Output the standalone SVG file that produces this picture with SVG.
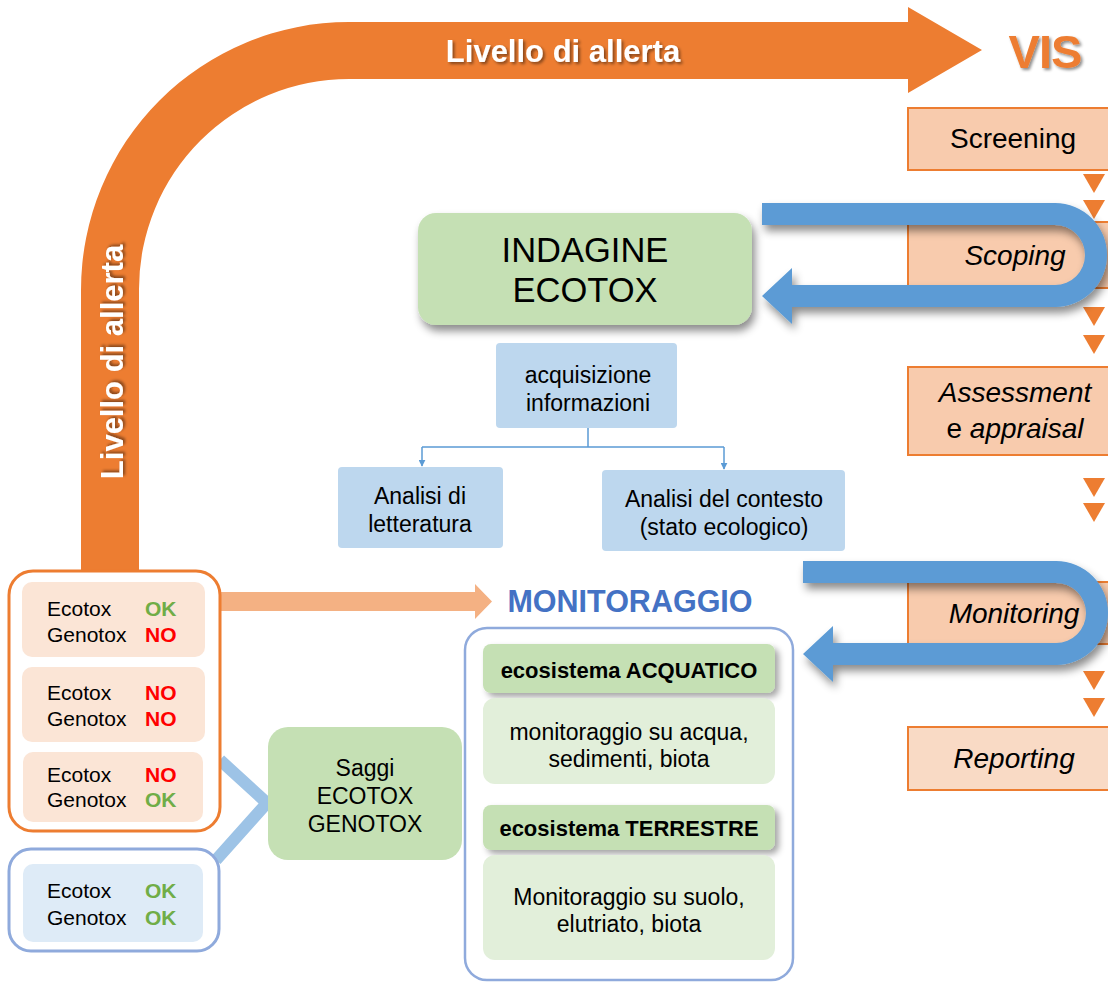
<svg xmlns="http://www.w3.org/2000/svg" width="1108" height="982" viewBox="0 0 1108 982">
<defs>
<filter id="sh" x="-20%" y="-30%" width="140%" height="170%"><feDropShadow dx="3" dy="6" stdDeviation="4" flood-color="#000" flood-opacity="0.45"/></filter>
<filter id="shs" x="-10%" y="-30%" width="130%" height="170%"><feDropShadow dx="4" dy="4" stdDeviation="3" flood-color="#000" flood-opacity="0.35"/></filter>
<filter id="tsh" x="-10%" y="-30%" width="130%" height="170%"><feDropShadow dx="2" dy="2" stdDeviation="1.5" flood-color="#000" flood-opacity="0.45"/></filter>
<marker id="ah" viewBox="0 0 10 10" refX="9" refY="5" markerWidth="7" markerHeight="7" orient="auto" markerUnits="userSpaceOnUse"><path d="M0,0 L10,5 L0,10 Z" fill="#5b9bd5"/></marker>
<clipPath id="cp"><rect x="0" y="0" width="1108" height="982"/></clipPath>
</defs>
<style>
text{font-family:"Liberation Sans",Arial,sans-serif;fill:#000}
.vis{fill:#f8cbad;stroke:#ed7d31;stroke-width:2}
.tri{fill:#ed7d31}
.vt{font-size:28px;text-anchor:middle}
.it{font-style:italic}
.bl{fill:#bdd7ee}
.m{font-size:23px;text-anchor:middle}
.lab{font-size:21px}
.ok{fill:#70ad47;font-weight:bold}
.no{fill:#ff0000;font-weight:bold}
.pk{fill:#fbe5d6}
.gh{fill:#c5e0b4}
.gb{fill:#e2efda}
.hd{font-size:22px;font-weight:bold;text-anchor:middle}
.bd{font-size:23px;text-anchor:middle}
</style>

<g id="alert-arrow">
<path d="M81 572 L81 290 A268 268 0 0 1 349 22 L908 22 L908 7 L982 50 L908 93 L908 79 L349 79 A210 210 0 0 0 139 289 L139 572 Z" fill="#ed7d31"/>
<text x="563" y="62" font-size="31" font-weight="bold" text-anchor="middle" style="fill:#fff" filter="url(#tsh)">Livello di allerta</text>
<text transform="translate(123,362) rotate(-90)" x="0" y="0" font-size="31" font-weight="bold" text-anchor="middle" style="fill:#fff" filter="url(#tsh)">Livello di allerta</text>
</g>

<g id="vis-title"><text x="1045" y="68" font-size="47" font-weight="bold" text-anchor="middle" letter-spacing="-1" style="fill:#ed7d31" filter="url(#tsh)">VIS</text></g>

<g clip-path="url(#cp)">
<g id="screening"><rect class="vis" x="908" y="108" width="220" height="62"/><text class="vt" x="1013" y="148">Screening</text></g>
<g id="scoping"><rect class="vis" x="908" y="222" width="220" height="66"/><text class="vt it" x="1015" y="265">Scoping</text></g>
<g id="assessment"><rect class="vis" x="908" y="367" width="220" height="88"/><text class="vt it" x="1015" y="402">Assessment</text><text class="vt" x="1015" y="438">e <tspan class="it">appraisal</tspan></text></g>
<g id="monitoring"><rect class="vis" x="908" y="582" width="220" height="62"/><text class="vt it" x="1014" y="623">Monitoring</text></g>
<g id="reporting"><rect class="vis" x="908" y="727" width="220" height="63" style="fill:#f9dac5"/><text class="vt it" x="1014" y="768">Reporting</text></g>
</g>

<g id="vis-steps">
<path class="tri" d="M1083 174 L1105 174 L1094 193 Z"/>
<path class="tri" d="M1083 200 L1105 200 L1094 219 Z"/>
<path class="tri" d="M1083 307 L1105 307 L1094 326 Z"/>
<path class="tri" d="M1083 335 L1105 335 L1094 354 Z"/>
<path class="tri" d="M1083 478 L1105 478 L1094 497 Z"/>
<path class="tri" d="M1083 503 L1105 503 L1094 522 Z"/>
<path class="tri" d="M1083 671 L1105 671 L1094 690 Z"/>
<path class="tri" d="M1083 698 L1105 698 L1094 717 Z"/>
</g>

<g id="indagine"><rect x="418" y="213" width="334" height="112" rx="18" fill="#c5e0b4" filter="url(#sh)"/><text x="585" y="262" font-size="34.5" text-anchor="middle">INDAGINE</text><text x="585" y="302" font-size="34.5" text-anchor="middle">ECOTOX</text></g>

<g id="connectors">
<path d="M762 203 L1055 203 A52 52 0 0 1 1055 307 L792 307 L792 324 L762 296 L792 268 L792 285 L1055 285 A30 30 0 0 0 1055 225 L762 225 Z" fill="#5b9bd5" filter="url(#sh)"/>
<path d="M803 561 L1056 561 A52 52 0 0 1 1056 665 L833 665 L833 682 L803 654 L833 626 L833 643 L1056 643 A30 30 0 0 0 1056 583 L803 583 Z" fill="#5b9bd5" filter="url(#sh)"/>
<path d="M588 428 L588 447 M422 447 L724 447" fill="none" stroke="#5b9bd5" stroke-width="1.5"/>
<path d="M422 447 L422 466" fill="none" stroke="#5b9bd5" stroke-width="1.5" marker-end="url(#ah)"/>
<path d="M724 447 L724 469" fill="none" stroke="#5b9bd5" stroke-width="1.5" marker-end="url(#ah)"/>
<path d="M220 592 L475 592 L475 584 L492 601.5 L475 619 L475 611 L220 611 Z" fill="#f4b183"/>
<path d="M220 760 L267 803 L216 860" fill="none" stroke="#9dc3e6" stroke-width="12"/>
</g>

<g id="acquisizione"><rect class="bl" x="496" y="343" width="181" height="85" rx="4"/><text class="m" x="588" y="383">acquisizione</text><text class="m" x="588" y="411">informazioni</text></g>
<g id="letteratura"><rect class="bl" x="338" y="467" width="165" height="81" rx="4"/><text class="m" x="420" y="504">Analisi di</text><text class="m" x="420" y="532">letteratura</text></g>
<g id="contesto"><rect class="bl" x="602" y="470" width="243" height="81" rx="4"/><text class="m" x="724" y="507">Analisi del contesto</text><text class="m" x="724" y="535">(stato ecologico)</text></g>

<g id="result-group-orange">
<rect x="9" y="571" width="211" height="260" rx="24" fill="#fff" stroke="#ed7d31" stroke-width="3"/>
<rect class="pk" x="22" y="582" width="183" height="75" rx="10"/>
<text class="lab" x="47" y="616">Ecotox</text><text class="lab ok" x="145" y="616">OK</text>
<text class="lab" x="47" y="642">Genotox</text><text class="lab no" x="145" y="642">NO</text>
<rect class="pk" x="22" y="667" width="183" height="75" rx="10"/>
<text class="lab" x="47" y="700">Ecotox</text><text class="lab no" x="145" y="700">NO</text>
<text class="lab" x="47" y="726">Genotox</text><text class="lab no" x="145" y="726">NO</text>
<rect class="pk" x="23" y="752" width="180" height="70" rx="10"/>
<text class="lab" x="47" y="782">Ecotox</text><text class="lab no" x="145" y="782">NO</text>
<text class="lab" x="47" y="807">Genotox</text><text class="lab ok" x="145" y="807">OK</text>
</g>

<g id="result-group-blue">
<rect x="9" y="849" width="210" height="102" rx="22" fill="#fff" stroke="#8faadc" stroke-width="3"/>
<rect x="23" y="864" width="180" height="78" rx="10" fill="#deebf7"/>
<text class="lab" x="47" y="898">Ecotox</text><text class="lab ok" x="145" y="898">OK</text>
<text class="lab" x="47" y="925">Genotox</text><text class="lab ok" x="145" y="925">OK</text>
</g>

<g id="saggi"><rect x="268" y="727" width="194" height="133" rx="20" fill="#c5e0b4"/><text class="bd" x="365" y="776">Saggi</text><text class="bd" x="365" y="804">ECOTOX</text><text class="bd" x="365" y="832">GENOTOX</text></g>

<g id="monitoraggio">
<text x="630" y="612" font-size="30.5" font-weight="bold" text-anchor="middle" style="fill:#4472c4">MONITORAGGIO</text>
<rect x="465" y="628" width="328" height="352" rx="22" fill="#fff" stroke="#8faadc" stroke-width="2.5"/>
<rect class="gh" x="483" y="644" width="292" height="49" rx="8" filter="url(#shs)"/>
<text class="hd" x="629" y="678">ecosistema ACQUATICO</text>
<rect class="gb" x="483" y="698" width="292" height="86" rx="12"/>
<text class="bd" x="629" y="740">monitoraggio su acqua,</text><text class="bd" x="629" y="767">sedimenti, biota</text>
<rect class="gh" x="483" y="805" width="292" height="45" rx="8" filter="url(#shs)"/>
<text class="hd" x="629" y="836">ecosistema TERRESTRE</text>
<rect class="gb" x="483" y="855" width="292" height="105" rx="12"/>
<text class="bd" x="629" y="905">Monitoraggio su suolo,</text><text class="bd" x="629" y="932">elutriato, biota</text>
</g>
</svg>
